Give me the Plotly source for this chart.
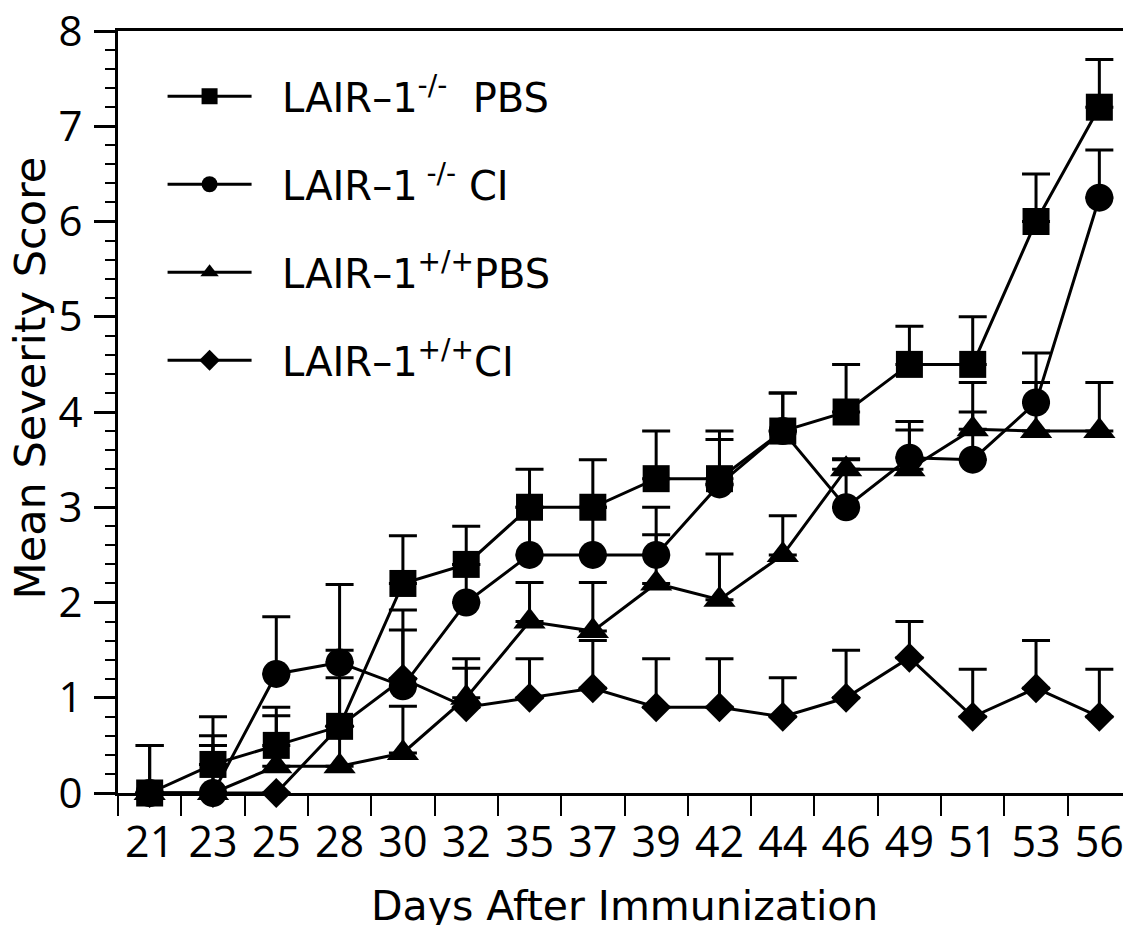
import plotly.graph_objects as go

days = ["21", "23", "25", "28", "30", "32", "35", "37", "39", "42", "44", "46", "49", "51", "53", "56"]

ko_pbs = [0, 0.3, 0.5, 0.7, 2.2, 2.4, 3.0, 3.0, 3.3, 3.3, 3.8, 4.0, 4.5, 4.5, 6.0, 7.2]
ko_pbs_err = [0.5, 0.5, 0.4, 0.8, 0.5, 0.4, 0.4, 0.5, 0.5, 0.5, 0.4, 0.5, 0.4, 0.5, 0.5, 0.5]

ko_ci = [0, 0, 1.25, 1.37, 1.12, 2.0, 2.5, 2.5, 2.5, 3.24, 3.8, 3.0, 3.52, 3.5, 4.1, 6.25]
ko_ci_err = [0.5, 0.5, 0.6, 0.82, 0.8, 0.4, 0.5, 0.5, 0.5, 0.47, 0.4, 0.5, 0.38, 0.5, 0.52, 0.5]

wt_pbs = [0, 0, 0.28, 0.28, 0.42, 1.0, 1.8, 1.7, 2.2, 2.03, 2.5, 3.4, 3.4, 3.82, 3.8, 3.8]
wt_pbs_err = [0, 0.6, 0.53, 0.93, 0.49, 0.41, 0.41, 0.51, 0.51, 0.48, 0.41, 0.11, 0.41, 0.49, 0.51, 0.51]

wt_ci = [0, 0, 0, 0.7, 1.2, 0.9, 1.0, 1.1, 0.9, 0.9, 0.8, 1.0, 1.42, 0.8, 1.1, 0.8]
wt_ci_err = [0, 0, 0, 0, 0.51, 0.41, 0.41, 0.5, 0.51, 0.51, 0.41, 0.5, 0.38, 0.5, 0.5, 0.5]

names = [
    "&nbsp;&nbsp;LAIR–1<sup>-/-</sup>  PBS",
    "&nbsp;&nbsp;LAIR–1<sup> -/-</sup> CI",
    "&nbsp;&nbsp;LAIR–1<sup>+/+</sup>PBS",
    "&nbsp;&nbsp;LAIR–1<sup>+/+</sup>CI",
]
x_title = "Days After Immunization"
y_title = "Mean Severity Score"

TICKFONT = "Open Sans"
TEXTFONT = "DejaVu Sans"

series = [
    # drawn bottom to top
    (wt_ci, wt_ci_err, names[3], "diamond", 23, 4),
    (wt_pbs, wt_pbs_err, names[2], "triangle-up", 28, 3),
    (ko_ci, ko_ci_err, names[1], "circle", 28, 2),
    (ko_pbs, ko_pbs_err, names[0], "square", 27, 1),
]

fig = go.Figure()
for vals, errs, name, sym, size, rank in series:
    fig.add_trace(go.Scatter(
        x=days, y=vals, name=name, mode="lines+markers",
        line=dict(color="black", width=3),
        marker=dict(symbol=sym, size=size, color="black"),
        error_y=dict(type="data", symmetric=False, array=errs,
                     arrayminus=[0] * len(errs), color="black",
                     thickness=3, width=14),
        cliponaxis=False, legendrank=rank, legendgroup=name,
    ))

fig.update_layout(
    width=1123, height=917,
    margin=dict(l=110, r=0, t=23, b=132),
    plot_bgcolor="white", paper_bgcolor="white",
    font=dict(family=TEXTFONT, color="black", size=40),
    showlegend=True,
    legend=dict(x=0.044, y=0.957, xanchor="left", yanchor="top",
                bgcolor="rgba(0,0,0,0)", font=dict(size=40, family=TEXTFONT),
                itemwidth=84, tracegroupgap=33, traceorder="grouped",
                itemsizing="trace"),
    annotations=[
        dict(text=x_title, xref="paper", yref="paper", x=0.5, y=-0.114,
             xanchor="center", yanchor="top", showarrow=False,
             font=dict(size=41, family=TEXTFONT)),
        dict(text=y_title, xref="paper", yref="paper", x=-0.0865, y=0.5446,
             xanchor="center", yanchor="middle", showarrow=False, textangle=-90,
             font=dict(size=43, family=TEXTFONT)),
    ],
)

fig.update_xaxes(
    type="category", categoryorder="array", categoryarray=days,
    range=[-0.5, 15.5], tickson="boundaries", automargin=False,
    ticks="outside", ticklen=20, tickwidth=2, tickcolor="black",
    ticklabelstandoff=9, ticklabeloverflow="allow",
    showline=True, linewidth=3, linecolor="black", mirror=True,
    showgrid=False, zeroline=False, layer="below traces",
    tickfont=dict(size=43, family=TICKFONT),
)
fig.update_yaxes(
    range=[0, 8], dtick=1, tick0=0, automargin=False,
    ticks="outside", ticklen=21, tickwidth=3, tickcolor="black",
    ticklabelstandoff=3, ticklabeloverflow="allow",
    minor=dict(dtick=0.2, ticks="outside", ticklen=10, tickwidth=2, tickcolor="black"),
    showline=True, linewidth=3, linecolor="black",
    showgrid=False, zeroline=False, layer="below traces",
    tickfont=dict(size=42, family=TICKFONT),
)

fig.write_html("out.html")
